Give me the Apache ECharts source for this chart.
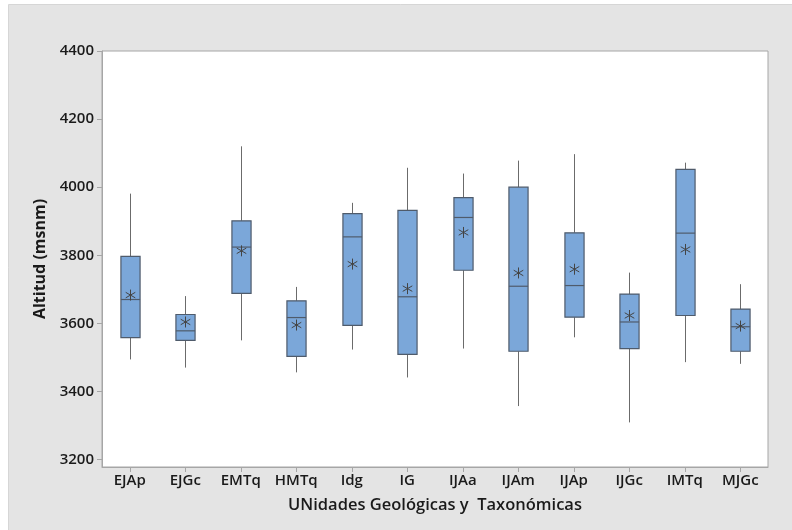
<!DOCTYPE html>
<html>
<head>
<meta charset="utf-8">
<script src="https://cdn.jsdelivr.net/npm/echarts@6/dist/echarts.min.js"></script>
<style>
html,body{margin:0;padding:0;background:#ffffff;}
#c{width:792px;height:530px;}
</style>
</head>
<body>
<div id="c"></div>
<script>
var categories = ['EJAp','EJGc','EMTq','HMTq','Idg','IG','IJAa','IJAm','IJAp','IJGc','IMTq','MJGc'];
var whiskerLow = [3494,3470,3550,3456,3523,3441,3526,3357,3559,3309,3486,3481];
var q1Values   = [3558,3550,3688,3503,3594,3509,3756,3518,3618,3526,3623,3518];
var medians    = [3670,3578,3824,3617,3854,3678,3911,3709,3711,3604,3865,3590];
var q3Values   = [3797,3626,3901,3666,3922,3932,3969,4000,3866,3686,4052,3642];
var whiskerHigh= [3981,3680,4120,3707,3954,4057,4040,4078,4097,3749,4072,3715];
var means      = [3683,3604,3813,3595,3774,3702,3867,3748,3759,3623,3817,3592];
var yTicks = [3200,3400,3600,3800,4000,4200,4400];

var rows = categories.map(function(c,i){
  return [i, whiskerLow[i], q1Values[i], medians[i], q3Values[i], whiskerHigh[i], means[i]];
});

var FONT = '"Open Sans", "Noto Sans", sans-serif';

function renderBox(params, api){
  var x = api.value(0);
  var pLow = api.coord([x, api.value(1)]);
  var pQ1 = api.coord([x, api.value(2)]);
  var pMed = api.coord([x, api.value(3)]);
  var pQ3 = api.coord([x, api.value(4)]);
  var pHigh = api.coord([x, api.value(5)]);
  var pMean = api.coord([x, api.value(6)]);
  var bw = api.size([1,0])[0]*0.345;
  var cx = Math.round(pQ1[0]) + 0.5;
  var lineCol = '#6b6b6b';
  var borderCol = '#4f5b6b';
  var r = 5.5;
  var children = [
    {type:'line', shape:{x1:cx,y1:pHigh[1],x2:cx,y2:pQ3[1]}, style:{stroke:lineCol,lineWidth:1}},
    {type:'line', shape:{x1:cx,y1:pQ1[1],x2:cx,y2:pLow[1]}, style:{stroke:lineCol,lineWidth:1}},
    {type:'rect', shape:{x:cx-bw/2,y:pQ3[1],width:bw,height:pQ1[1]-pQ3[1]}, style:{fill:'#7ba7d9',stroke:borderCol,lineWidth:1.2}},
    {type:'line', shape:{x1:cx-bw/2,y1:pMed[1],x2:cx+bw/2,y2:pMed[1]}, style:{stroke:borderCol,lineWidth:1.2}},
    {type:'line', shape:{x1:cx,y1:pMean[1]-r,x2:cx,y2:pMean[1]+r}, style:{stroke:'#444',lineWidth:1}},
    {type:'line', shape:{x1:cx-r*0.87,y1:pMean[1]-r*0.5,x2:cx+r*0.87,y2:pMean[1]+r*0.5}, style:{stroke:'#444',lineWidth:1}},
    {type:'line', shape:{x1:cx-r*0.87,y1:pMean[1]+r*0.5,x2:cx+r*0.87,y2:pMean[1]-r*0.5}, style:{stroke:'#444',lineWidth:1}}
  ];
  return {type:'group', children:children};
}

var chart = echarts.init(document.getElementById('c'), null, {renderer:'canvas'});
chart.setOption({
  backgroundColor:'#ffffff',
  animation:false,
  graphic:[{
    type:'rect', z:-10, silent:true,
    shape:{x:8.5,y:4.5,width:800,height:540},
    style:{fill:'#e4e4e4',stroke:'#d6d6d6',lineWidth:1}
  }],
  grid:{left:102,top:51,right:24,bottom:63,show:true,backgroundColor:'#ffffff',borderColor:'#a6a6a6',borderWidth:1},
  xAxis:{
    type:'category', data:categories,
    name:'UNidades Geológicas y  Taxonómicas', nameLocation:'middle', nameGap:30,
    nameTextStyle:{fontFamily:FONT,fontSize:16.5,fontWeight:600,color:'#1a1a1a'},
    axisLine:{show:true,lineStyle:{color:'#a6a6a6'}},
    axisTick:{show:true,alignWithLabel:true,length:5,lineStyle:{color:'#a6a6a6'}},
    axisLabel:{fontFamily:FONT,fontSize:15,fontWeight:600,color:'#1a1a1a',margin:6,interval:0},
    splitLine:{show:false}
  },
  yAxis:{
    type:'value', min:3178, max:4400,
    name:'Altitud (msnm)', nameLocation:'middle', nameGap:53,
    nameTextStyle:{fontFamily:FONT,fontSize:16,fontWeight:700,color:'#1a1a1a'},
    axisLine:{show:true,lineStyle:{color:'#a6a6a6'}},
    axisTick:{show:true,length:5,lineStyle:{color:'#a6a6a6'},customValues:yTicks},
    axisLabel:{fontFamily:FONT,fontSize:15,fontWeight:600,color:'#1a1a1a',margin:8,customValues:yTicks,
      formatter:function(v){return String(v);}},
    splitLine:{show:false}
  },
  series:[{
    type:'custom',
    renderItem:renderBox,
    data:rows,
    encode:{x:0,y:[1,2,3,4,5,6]},
    clip:false
  }]
});
</script>
</body>
</html>
